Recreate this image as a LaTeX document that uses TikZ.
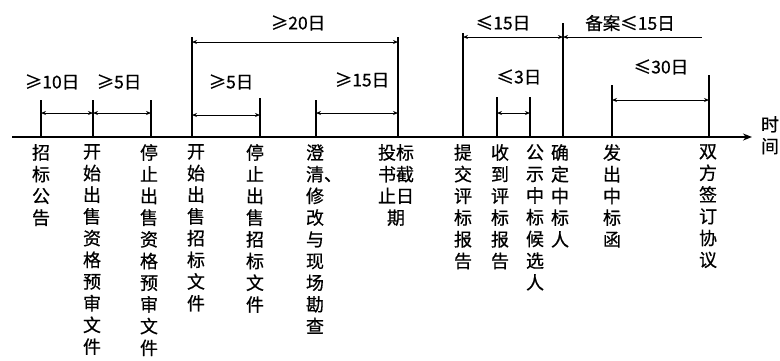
\documentclass[tikz,border=0pt]{standalone}
\usepackage{fontspec}
\setmainfont[FakeBold=0.6]{Noto Sans CJK SC}
\usetikzlibrary{arrows.meta}
\begin{document}
\begin{tikzpicture}[x=1pt,y=-1pt,
  axisline/.style={line width=2.4pt,-{Stealth[length=9pt,width=7pt]}},
  tickline/.style={line width=1.3pt},
  dimline/.style={line width=0.9pt,{Stealth[length=5pt,width=4pt]}-{Stealth[length=5pt,width=4pt]}},
  leftdim/.style={line width=0.9pt,{Stealth[length=5pt,width=4pt]}-},
  vlab/.style={anchor=north,inner sep=0pt,align=center,font=\fontsize{18}{21.7}\selectfont},
  dlab/.style={inner sep=0pt,font=\fontsize{17.5}{19}\selectfont}]
\useasboundingbox (0,0) rectangle (780,360);
% axis
\coordinate (ax0) at (12,137);
\coordinate (ax1) at (752,137);
\draw[axisline] (ax0) -- (ax1);
% ticks
\foreach \n/\x/\t in {1/41/100,2/93/100,3/151/100,4/192/37,5/260/98,6/316/100,7/398/37,8/463/33,9/497/97,10/530/97,11/563/23,12/612/85,13/709/75}{
  \coordinate (b\n) at (\x,137);
  \coordinate (t\n) at (\x,\t);
  \draw[tickline] (b\n) -- (t\n);
}
% levels
\coordinate (y113) at (0,113);
\coordinate (y115) at (0,115);
\coordinate (y42) at (0,42);
\coordinate (y37) at (0,37);
\coordinate (y100) at (0,100);
\coordinate (bend) at (702,37);
% dimension arrows
\draw[dimline] (b1 |- y113) -- (b2 |- y113);
\draw[dimline] (b2 |- y113) -- (b3 |- y113);
\draw[dimline] (b4 |- y42) -- (b7 |- y42);
\draw[dimline] (b4 |- y115) -- (b5 |- y115);
\draw[dimline] (b6 |- y113) -- (b7 |- y113);
\draw[dimline] (b8 |- y37) -- (b11 |- y37);
\draw[leftdim] (b11 |- y37) -- (bend);
\draw[dimline] (b9 |- y113) -- (b10 |- y113);
\draw[dimline] (b12 |- y100) -- (b13 |- y100);
% dimension labels
\node[dlab] (d1) at (52,82) {≥10日};
\node[dlab] (d2) at (119,82) {≥5日};
\node[dlab] (d3) at (231,82) {≥5日};
\node[dlab] (d4) at (298,23) {≥20日};
\node[dlab] (d5) at (362,80) {≥15日};
\node[dlab] (d6) at (503,23) {≤15日};
\node[dlab] (d7) at (630,23) {备案≤15日};
\node[dlab] (d8) at (519,77) {≤3日};
\node[dlab] (d9) at (661,67) {≤30日};
% vertical labels
\node[vlab] (v1) at (41,144) {招\\标\\公\\告};
\node[vlab] (v2) at (92,144) {开\\始\\出\\售\\资\\格\\预\\审\\文\\件};
\node[vlab] (v3) at (149,144) {停\\止\\出\\售\\资\\格\\预\\审\\文\\件};
\node[vlab] (v4) at (196,144) {开\\始\\出\\售\\招\\标\\文\\件};
\node[vlab] (v5) at (255,144) {停\\止\\出\\售\\招\\标\\文\\件};
\node[vlab] (v6) at (315,144) {澄\\清\rlap{、}\\修\\改\\与\\现\\场\\勘\\查};
\node[vlab] (v7) at (396,144) {投标\\书截\\止日\\期};
\node[vlab] (v8) at (463,144) {提\\交\\评\\标\\报\\告};
\node[vlab] (v9) at (500,144) {收\\到\\评\\标\\报\\告};
\node[vlab] (v10) at (535,144) {公\\示\\中\\标\\候\\选\\人};
\node[vlab] (v11) at (560,144) {确\\定\\中\\标\\人};
\node[vlab] (v12) at (612,144) {发\\出\\中\\标\\函};
\node[vlab] (v13) at (708,144) {双\\方\\签\\订\\协\\议};
\node[vlab] (v14) at (770,116) {时\\间};
\end{tikzpicture}
\end{document}
